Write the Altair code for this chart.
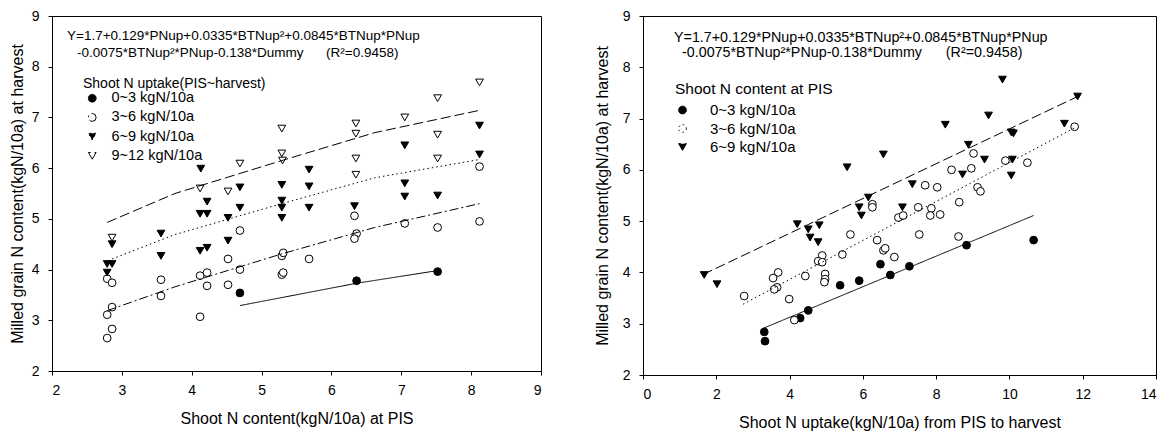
import altair as alt
import pandas as pd

FONT = "Liberation Sans"

groups_left = ["0~3 kgN/10a", "3~6 kgN/10a", "6~9 kgN/10a", "9~12 kgN/10a"]
groups_right = ["0~3 kgN/10a", "3~6 kgN/10a", "6~9 kgN/10a"]

# ---------------- Left panel: x = shoot N content at PIS ----------------
L1_x = [4.69, 6.36, 7.52]
L1_y = [3.54, 3.78, 3.96]
L2_x = [2.79, 2.86, 2.79, 2.86, 2.79, 2.86, 3.56, 3.56, 4.12, 4.12, 4.22, 4.22, 4.52, 4.52,
        4.69, 4.69, 5.29, 5.31, 5.29, 5.31, 5.68, 6.33, 6.36, 6.33, 7.05, 7.52, 8.12, 8.12]
L2_y = [2.65, 2.83, 3.11, 3.26, 3.82, 3.74, 3.80, 3.48, 3.07, 3.88, 3.94, 3.68, 4.21, 3.70,
        4.77, 4.00, 4.27, 4.33, 3.90, 3.94, 4.21, 5.06, 4.71, 4.61, 4.91, 4.83, 4.95, 6.03]
L3_x = [2.79, 2.79, 2.86, 2.86, 3.56, 3.56, 4.12, 4.22, 4.12, 4.22, 4.22, 4.13, 4.52, 4.52, 4.69,
        4.69, 5.29, 5.29, 5.29, 5.29, 5.68, 5.68, 5.68, 6.33, 7.05, 7.05, 7.05, 7.52, 8.12, 8.12]
L3_y = [3.94, 4.11, 4.11, 4.50, 4.71, 4.27, 4.37, 4.43, 5.10, 5.10, 5.34, 5.99, 5.02, 4.57, 5.22,
        5.62, 5.02, 5.22, 5.36, 5.67, 5.97, 5.64, 5.22, 5.25, 6.45, 5.70, 5.44, 5.46, 6.84, 6.27]
L4_x = [2.86, 4.12, 4.52, 4.69, 5.29, 5.29, 5.30, 6.35, 6.35, 6.35, 6.35, 7.05, 7.52, 7.52, 7.52, 8.12]
L4_y = [4.63, 5.60, 5.54, 6.09, 6.78, 6.29, 6.15, 6.88, 6.68, 6.19, 5.87, 7.00, 7.38, 6.66, 6.19, 7.69]

# fitted curves
LF1_x = [4.69, 6.36, 7.52]
LF1_y = [3.29, 3.73, 3.98]
LF2_x = [2.79, 3.76, 5.29, 6.62, 8.12]
LF2_y = [3.19, 3.66, 4.31, 4.83, 5.30]
LF3_x = [2.86, 3.76, 5.29, 6.62, 8.12]
LF3_y = [4.21, 4.69, 5.30, 5.81, 6.17]
LF4_x = [2.79, 3.76, 5.29, 6.62, 8.12]
LF4_y = [4.93, 5.50, 6.15, 6.70, 7.14]

# ---------------- Right panel: x = shoot N uptake PIS->harvest ----------------
R1_x = [3.31, 3.33, 4.29, 4.51, 5.38, 5.90, 6.48, 6.75, 7.27, 8.83, 10.66]
R1_y = [2.84, 2.66, 3.11, 3.26, 3.75, 3.84, 4.16, 3.95, 4.12, 4.53, 4.63]
R2_x = [2.76, 3.55, 3.69, 3.66, 3.58, 3.99, 4.13, 4.43, 4.89, 4.78, 4.89, 4.97, 4.97, 4.95,
        5.44, 5.66, 6.26, 6.26, 6.39, 6.56, 6.61, 6.86, 6.97, 7.10, 7.51, 7.54, 7.70, 7.87,
        7.84, 8.11, 8.03, 8.42, 8.63, 8.61, 8.96, 9.02, 9.13, 9.21, 9.89, 10.49, 11.78]
R2_y = [3.54, 3.89, 4.00, 3.71, 3.67, 3.48, 3.07, 3.93, 4.33, 4.22, 4.20, 3.97, 3.87, 3.81,
        4.35, 4.74, 5.33, 5.27, 4.63, 4.43, 4.47, 4.30, 5.07, 5.11, 5.27, 4.74, 5.70, 5.25,
        5.11, 5.13, 5.66, 6.00, 5.37, 4.70, 6.03, 6.32, 5.66, 5.58, 6.18, 6.14, 6.84]
R3_x = [1.67, 2.02, 4.21, 4.51, 4.81, 4.56, 4.78, 5.57, 5.90, 5.96, 6.15, 6.56, 7.08, 7.35,
        8.25, 8.72, 8.88, 9.32, 9.43, 9.81, 10.05, 10.11, 10.08, 10.05, 11.50, 11.86]
R3_y = [3.95, 3.77, 4.94, 4.84, 4.92, 4.68, 4.59, 6.05, 5.27, 5.11, 5.46, 6.30, 5.27, 5.72,
        6.88, 5.91, 6.49, 6.20, 7.06, 7.76, 6.73, 6.71, 6.20, 5.89, 6.90, 7.43]

RF1_x = [3.28, 10.66]
RF1_y = [2.91, 5.11]
RF2_x = [2.73, 11.78]
RF2_y = [3.38, 6.82]
RF3_x = [1.64, 11.86]
RF3_y = [3.96, 7.43]

eq_line1 = "Y=1.7+0.129*PNup+0.0335*BTNup\u00b2+0.0845*BTNup*PNup"
eq_line2 = "-0.0075*BTNup\u00b2*PNup-0.138*Dummy" + "\u00a0" * 6 + "(R\u00b2=0.9458)"


def frame(xs, ys, gs, key):
    rows = []
    for xl, yl, g in zip(xs, ys, gs):
        for a, b in zip(xl, yl):
            rows.append({"x": a, "y": b, key: g})
    return pd.DataFrame(rows)


left_pts = frame([L1_x, L2_x, L3_x, L4_x], [L1_y, L2_y, L3_y, L4_y], groups_left, "group")
left_fit = frame([LF1_x, LF2_x, LF3_x, LF4_x], [LF1_y, LF2_y, LF3_y, LF4_y], groups_left, "fit")
right_pts = frame([R1_x, R2_x, R3_x], [R1_y, R2_y, R3_y], groups_right, "group")
right_fit = frame([RF1_x, RF2_x, RF3_x], [RF1_y, RF2_y, RF3_y], groups_right, "fit")

shapes = ["circle", "circle", "triangle-down", "triangle-down"]
fills = ["black", "white", "black", "white"]
strokes = ["black", "black", "black", "black"]
sizes = [60, 60, 90, 90]
SOLID, DASHDOT, DOT, DASH = [1, 0], [9, 3, 2, 3], [1.5, 3], [10, 4]


def make_legend(title, lx, ly, lab, tit, loff, tpad, rpad, soff):
    return alt.Legend(title=title, orient="none", legendX=lx, legendY=ly,
                      labelFontSize=lab, titleFontSize=tit, labelOffset=loff,
                      titlePadding=tpad, rowPadding=rpad, symbolOffset=soff,
                      titleLimit=400, labelLimit=300,
                      symbolStrokeColor="black", symbolStrokeWidth=1, symbolOpacity=1)


def panel(pts, fit, groups, dashes, xdom, xvals, xtitle, leg, w, h, eq_pos, eq_size, ytp):
    n = len(groups)
    xs = alt.Scale(domain=xdom, nice=False, zero=False)
    ys = alt.Scale(domain=[2, 9], nice=False, zero=False)
    xax = alt.Axis(values=xvals, title=xtitle, labelPadding=8, titlePadding=13)
    yax = alt.Axis(values=list(range(2, 10)),
                   title="Milled grain N content(kgN/10a) at harvest",
                   labelPadding=9, titlePadding=ytp)
    points = alt.Chart(pts).mark_point(filled=True, strokeWidth=1, opacity=1,
                                       fillOpacity=1, strokeOpacity=1).encode(
        x=alt.X("x:Q", scale=xs, axis=xax),
        y=alt.Y("y:Q", scale=ys, axis=yax),
        shape=alt.Shape("group:N", scale=alt.Scale(domain=groups, range=shapes[:n]), legend=leg),
        fill=alt.Fill("group:N", scale=alt.Scale(domain=groups, range=fills[:n]), legend=leg),
        stroke=alt.Stroke("group:N", scale=alt.Scale(domain=groups, range=strokes[:n]), legend=leg),
        size=alt.Size("group:N", scale=alt.Scale(domain=groups, range=sizes[:n]), legend=leg),
    )
    lines = alt.Chart(fit).mark_line(color="black", strokeWidth=1).encode(
        x=alt.X("x:Q", scale=xs, axis=xax),
        y=alt.Y("y:Q", scale=ys, axis=yax),
        strokeDash=alt.StrokeDash("fit:N", scale=alt.Scale(domain=groups, range=dashes),
                                  legend=None),
    )
    t1 = alt.Chart(pd.DataFrame({"t": [eq_line1]})).mark_text(
        align="left", baseline="middle", font=FONT, fontSize=eq_size, color="black"
    ).encode(text="t:N", x=alt.value(eq_pos[0]), y=alt.value(eq_pos[1]))
    t2 = alt.Chart(pd.DataFrame({"t": [eq_line2]})).mark_text(
        align="left", baseline="middle", font=FONT, fontSize=eq_size, color="black"
    ).encode(text="t:N", x=alt.value(eq_pos[2]), y=alt.value(eq_pos[3]))
    return alt.layer(points, lines, t1, t2).properties(width=w, height=h)


leg_left = make_legend("Shoot N uptake(PIS~harvest)", 31, 61, 14.5, 14, 12, 0, 4.2, 2)
leg_right = make_legend("Shoot N content at PIS", 32, 66, 15, 15.5, 20, 5, 2.5, 0)

left = panel(left_pts, left_fit, groups_left, [SOLID, DASHDOT, DOT, DASH], [2, 9],
             list(range(2, 10)), "Shoot N content(kgN/10a) at PIS", leg_left,
             489, 355, (15, 20, 25, 37), 13.5, 6)
right = panel(right_pts, right_fit, groups_right, [SOLID, DOT, DASH], [0, 14],
              list(range(0, 15, 2)), "Shoot N uptake(kgN/10a) from PIS to harvest", leg_right,
              513, 359, (31, 22, 39, 37), 14.3, 12)

chart = alt.hconcat(left, right, spacing=51).resolve_scale(
    shape="independent", fill="independent", stroke="independent", size="independent",
    strokeDash="independent"
).resolve_legend(
    shape="independent", fill="independent", stroke="independent", size="independent",
    strokeDash="independent"
).properties(
    padding={"left": 0, "top": 0, "right": 0, "bottom": 0}
).configure_axis(
    domainColor="black", tickColor="black", labelColor="black", titleColor="black",
    grid=False, labelFont=FONT, titleFont=FONT, labelFontSize=14, titleFontSize=16,
    titleFontWeight="normal", tickSize=4, domainWidth=1, tickWidth=1
).configure_legend(
    labelFont=FONT, titleFont=FONT, titleFontWeight="normal",
    labelColor="black", titleColor="black", padding=0
).configure_view(stroke="black", strokeWidth=1)

chart.save("out.html", embed_options={"renderer": "svg", "actions": False})
